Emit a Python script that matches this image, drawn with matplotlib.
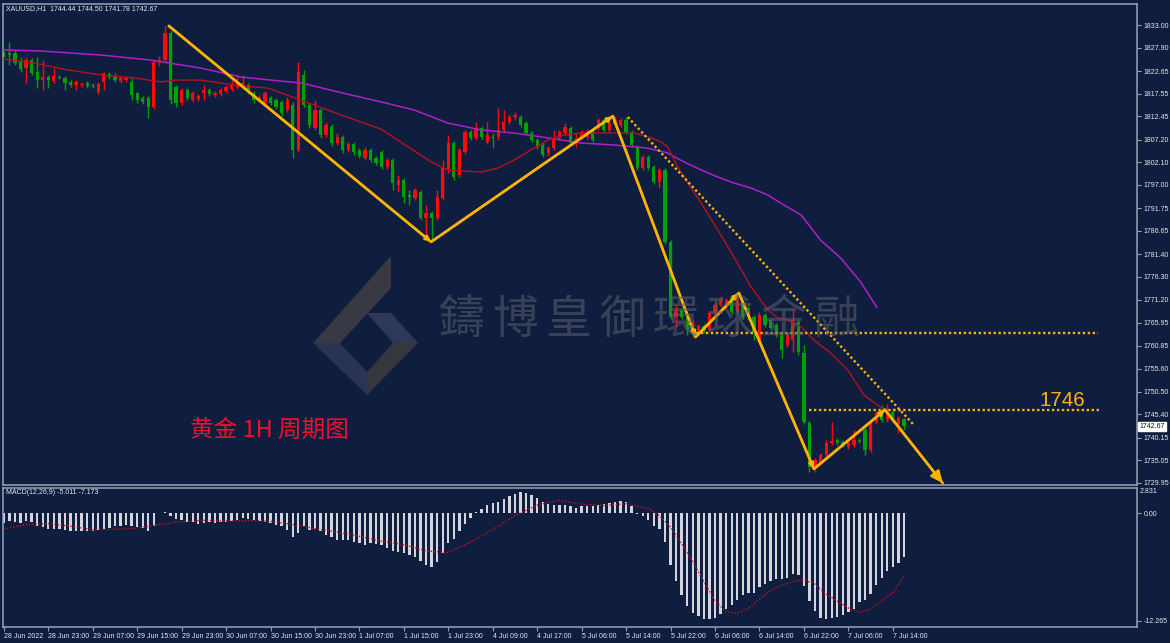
"""
XAUUSD H1 — recreación del gráfico MT4 con zigzag, líneas de soporte y MACD.
"""
import matplotlib.pyplot as plt
from matplotlib.patches import Polygon
from matplotlib.transforms import blended_transform_factory

W, H = 1170, 643

BG = "#0f1e3f"
FRAME = "#9aa3b5"
TXT = "#e4e6ec"
UP = "#ff0a0a"
DOWN = "#00a000"
GOLD = "#ffb300"

# ─── Datos: velas H1 (índice de barra 0..162) ───────────────────────────────
OPEN = [
    1826.9, 1826.7, 1826.7, 1824.7, 1823.3, 1825.1, 1822.4, 1820.6, 1821.3, 1820.4,
    1821.3, 1821.1, 1820.2, 1819.5, 1819.5, 1819.95, 1819.5, 1817.9, 1820.2, 1822.0,
    1821.5, 1820.4, 1820.6, 1820.2, 1817.7, 1816.6, 1816.6, 1814.55, 1824.7, 1825.1,
    1831.2, 1819.05, 1815.45, 1818.4, 1816.1, 1816.35, 1817.7, 1818.4, 1817.25, 1817.5,
    1818.2, 1818.6, 1819.05, 1819.05, 1819.5, 1817.7, 1816.1, 1815.45, 1816.6, 1816.1,
    1815.7, 1813.9, 1815.0, 1804.9, 1821.75, 1815.0, 1809.8, 1813.9, 1808.25, 1810.05,
    1806.4, 1807.8, 1804.9, 1806.2, 1804.9, 1803.1, 1804.9, 1803.1, 1804.4, 1801.05,
    1802.6, 1797.0, 1798.1, 1794.75, 1794.1, 1795.4, 1789.6, 1790.7, 1789.6, 1794.1,
    1800.4, 1806.4, 1799.25, 1804.4, 1808.9, 1807.6, 1809.8, 1806.7, 1807.8, 1807.8,
    1809.4, 1811.2, 1812.3, 1812.3, 1810.95, 1808.7, 1807.1, 1806.0, 1804.2, 1805.3,
    1807.6, 1808.7, 1809.8, 1807.1, 1807.8, 1807.8, 1809.4, 1809.8, 1811.6, 1809.4,
    1810.7, 1810.5, 1811.6, 1808.9, 1805.55, 1800.8, 1803.3, 1801.05, 1797.7, 1800.4,
    1784.2, 1767.3, 1768.9, 1767.3, 1764.4, 1764.15, 1765.3, 1764.4, 1768.2, 1770.0,
    1770.0, 1771.8, 1768.4, 1770.45, 1769.3, 1767.3, 1762.1, 1767.75, 1766.6, 1765.5,
    1763.25, 1761.0, 1762.1, 1766.2, 1759.2, 1743.45, 1733.55, 1734.7, 1736.25, 1738.9,
    1739.6, 1739.2, 1738.0, 1738.5, 1739.6, 1741.9, 1737.4, 1743.7, 1746.4, 1744.1,
    1745.9, 1743.2, 1744.44,
]
HIGH = [
    1827.2, 1829.2, 1827.4, 1825.8, 1825.8, 1825.6, 1825.8, 1825.1, 1821.75, 1823.3,
    1821.75, 1821.5, 1820.6, 1820.6, 1820.2, 1820.4, 1819.95, 1820.2, 1822.4, 1822.4,
    1822.2, 1821.5, 1821.3, 1821.1, 1817.9, 1817.0, 1817.0, 1825.1, 1826.0, 1832.78,
    1831.6, 1819.5, 1818.8, 1818.8, 1818.1, 1817.5, 1819.5, 1818.8, 1818.1, 1818.8,
    1819.5, 1820.6, 1821.75, 1821.75, 1819.95, 1818.1, 1817.25, 1818.1, 1817.0, 1816.6,
    1816.1, 1816.8, 1815.7, 1824.7, 1822.9, 1815.45, 1816.1, 1814.3, 1811.2, 1810.7,
    1808.7, 1808.25, 1806.7, 1806.7, 1805.3, 1805.55, 1805.3, 1803.5, 1804.9, 1803.1,
    1803.1, 1799.25, 1798.6, 1795.9, 1796.3, 1795.9, 1792.5, 1791.2, 1795.9, 1802.6,
    1808.25, 1806.9, 1805.3, 1809.4, 1809.4, 1811.2, 1810.3, 1811.2, 1808.7, 1814.3,
    1813.9, 1812.75, 1813.4, 1812.75, 1811.4, 1809.2, 1807.6, 1806.4, 1805.8, 1809.4,
    1809.4, 1810.95, 1810.3, 1808.7, 1809.4, 1809.6, 1809.8, 1812.1, 1812.1, 1811.4,
    1812.5, 1812.1, 1812.3, 1809.4, 1806.0, 1803.75, 1803.75, 1801.5, 1800.8, 1800.8,
    1784.6, 1770.0, 1769.3, 1767.75, 1766.6, 1765.8, 1765.8, 1768.6, 1770.45, 1772.0,
    1771.6, 1772.2, 1772.7, 1770.9, 1769.8, 1767.75, 1768.4, 1768.2, 1767.1, 1765.9,
    1763.7, 1763.7, 1768.9, 1766.6, 1761.0, 1743.9, 1735.6, 1736.7, 1739.6, 1743.7,
    1740.1, 1739.6, 1739.4, 1741.9, 1740.1, 1742.3, 1744.1, 1746.1, 1747.5, 1747.7,
    1746.8, 1745.0, 1744.50,
]
LOW = [
    1825.7, 1824.0, 1824.0, 1822.4, 1819.95, 1821.75, 1818.8, 1818.4, 1818.8, 1819.95,
    1820.85, 1818.4, 1819.05, 1818.4, 1819.05, 1818.8, 1818.8, 1817.5, 1818.4, 1820.85,
    1820.2, 1819.95, 1820.2, 1816.1, 1815.45, 1815.2, 1812.1, 1814.1, 1823.8, 1824.7,
    1815.2, 1814.55, 1815.0, 1816.1, 1815.7, 1815.9, 1816.1, 1817.0, 1816.8, 1817.0,
    1817.7, 1818.1, 1818.6, 1818.6, 1817.5, 1815.45, 1815.7, 1815.0, 1815.0, 1814.1,
    1812.5, 1813.4, 1803.1, 1804.4, 1814.55, 1809.8, 1809.4, 1807.6, 1807.8, 1805.8,
    1806.0, 1804.2, 1804.4, 1803.75, 1803.1, 1802.6, 1802.2, 1801.5, 1800.6, 1800.6,
    1795.9, 1795.4, 1793.0, 1792.5, 1793.6, 1789.1, 1785.1, 1784.6, 1789.1, 1793.6,
    1799.8, 1798.1, 1798.8, 1803.9, 1807.1, 1807.1, 1807.3, 1806.2, 1805.3, 1807.1,
    1808.9, 1810.7, 1811.6, 1810.05, 1808.25, 1806.7, 1805.1, 1803.3, 1803.5, 1804.9,
    1807.1, 1808.25, 1806.0, 1805.55, 1807.3, 1807.3, 1806.7, 1809.4, 1808.9, 1808.9,
    1810.3, 1810.05, 1808.5, 1805.55, 1800.4, 1800.4, 1800.4, 1797.2, 1796.3, 1783.8,
    1766.8, 1765.05, 1766.8, 1763.25, 1762.8, 1763.7, 1763.7, 1763.9, 1767.75, 1769.6,
    1769.3, 1768.0, 1768.0, 1766.8, 1766.6, 1762.1, 1761.45, 1765.05, 1764.4, 1762.8,
    1758.1, 1760.5, 1759.4, 1758.8, 1743.2, 1732.4, 1732.4, 1734.2, 1735.8, 1738.5,
    1738.5, 1738.0, 1737.6, 1738.0, 1738.9, 1736.25, 1737.0, 1743.2, 1743.7, 1743.7,
    1743.45, 1741.2, 1741.78,
]
CLOSE = [
    1826.0, 1826.25, 1824.45, 1823.1, 1825.1, 1822.2, 1820.6, 1821.3, 1820.6, 1821.5,
    1821.1, 1819.95, 1819.5, 1820.2, 1819.7, 1819.3, 1819.3, 1819.7, 1822.2, 1821.3,
    1820.6, 1821.1, 1821.1, 1817.25, 1816.1, 1815.7, 1814.55, 1824.7, 1825.1, 1831.2,
    1816.1, 1815.45, 1818.4, 1816.6, 1817.7, 1817.0, 1818.4, 1817.5, 1817.7, 1818.4,
    1819.05, 1819.5, 1820.2, 1819.95, 1817.9, 1816.1, 1816.8, 1817.7, 1815.45, 1814.55,
    1813.2, 1816.1, 1804.9, 1822.4, 1815.0, 1810.5, 1813.9, 1808.25, 1810.5, 1806.4,
    1807.8, 1804.9, 1806.2, 1804.4, 1803.5, 1804.9, 1802.6, 1801.95, 1801.05, 1802.6,
    1797.45, 1798.1, 1794.3, 1794.3, 1795.9, 1789.6, 1790.7, 1789.6, 1794.3, 1800.8,
    1806.4, 1798.8, 1804.9, 1808.9, 1807.6, 1809.8, 1807.8, 1808.25, 1807.6, 1809.4,
    1811.2, 1812.3, 1812.75, 1810.5, 1808.7, 1807.1, 1805.55, 1803.75, 1805.3, 1807.6,
    1808.9, 1810.05, 1806.4, 1807.35, 1808.9, 1808.9, 1807.1, 1811.6, 1809.4, 1810.95,
    1811.6, 1811.6, 1808.9, 1806.0, 1800.8, 1803.3, 1800.8, 1797.7, 1800.4, 1784.2,
    1767.3, 1768.9, 1767.3, 1764.4, 1766.2, 1765.3, 1764.15, 1768.2, 1770.0, 1771.1,
    1771.1, 1768.4, 1771.1, 1767.3, 1767.3, 1763.9, 1767.75, 1765.5, 1764.8, 1763.25,
    1759.9, 1763.25, 1766.6, 1759.4, 1743.7, 1733.55, 1735.1, 1736.25, 1738.9, 1739.4,
    1738.9, 1738.5, 1738.9, 1739.6, 1739.4, 1737.4, 1743.7, 1745.7, 1744.1, 1745.7,
    1743.9, 1744.6, 1742.67,
]

# medias móviles (barra, precio)
MA_RED_X = [0, 5.4, 11.5, 17.5, 23.4, 28.3, 30.6, 35.5, 41.4, 47.5, 53.5, 60.7, 67.9,
            70.9, 76.9, 79.9, 85.9, 88.9, 91.8, 94.9, 97.9, 100.8, 103.9, 109.8, 113.4,
            116.5, 118.3, 119.5, 121.3, 123.1, 125.5, 128.5, 131.4, 134.5, 137.5, 139.3,
            141.1, 143.5, 145.8, 148.8, 151.9, 154.8, 157.8, 159.1]
MA_RED_Y = [1825.35, 1824.45, 1822.9, 1821.75, 1821.1, 1820.2, 1820.6, 1820.6, 1819.5,
            1818.8, 1816.1, 1812.75, 1809.6, 1807.1, 1802.2, 1800.4, 1799.9, 1800.8,
            1802.6, 1804.9, 1807.1, 1808.25, 1808.7, 1808.7, 1808.7, 1807.6, 1806.7,
            1805.55, 1801.05, 1797.45, 1792.95, 1786.9, 1780.8, 1774.05, 1768.9, 1767.1,
            1766.6, 1765.05, 1762.1, 1759.2, 1755.35, 1749.75, 1747.0, 1746.4]
MA_PURPLE_X = [0, 6.7, 17.5, 26.5, 35.5, 42.7, 48.1, 53.5, 62.5, 67.9, 73.8, 79.9, 85.9,
               91.8, 97.9, 103.9, 109.8, 115.9, 119.5, 122.4, 125.5, 128.5, 131.4, 134.5,
               137.5, 140.4, 143.5, 147.0, 150.6, 154.2, 157.1]
MA_PURPLE_Y = [1827.4, 1827.15, 1826.25, 1825.1, 1823.3, 1821.3, 1820.6, 1819.95, 1817.25,
               1815.7, 1813.9, 1810.95, 1809.4, 1808.7, 1807.6, 1806.45, 1806.0, 1805.3,
               1804.2, 1802.2, 1800.4, 1798.8, 1797.45, 1796.3, 1794.75, 1792.5, 1790.25,
               1784.6, 1780.6, 1775.2, 1769.55]

# MACD(12,26,9): línea principal (histograma) y señal punteada
MACD = [
    -1.15, -0.95, -1.07, -1.15, -0.95, -1.07, -1.53, -1.6, -1.8, -1.83,
    -1.83, -1.9, -2.02, -2.1, -2.1, -2.1, -2.1, -1.9, -1.83, -1.72,
    -1.53, -1.45, -1.34, -1.53, -1.6, -1.72, -2.1, -1.45, -0.05, 0.15,
    -0.38, -0.69, -0.84, -0.99, -1.07, -1.22, -1.15, -1.07, -1.15, -1.07,
    -1.07, -0.95, -0.76, -0.57, -0.69, -0.84, -0.95, -1.07, -1.15, -1.34,
    -1.53, -1.91, -2.67, -2.29, -1.53, -1.91, -1.83, -2.1, -2.48, -2.67,
    -3.05, -3.05, -3.05, -3.24, -3.43, -3.63, -3.43, -3.5, -3.63, -4.0,
    -4.27, -4.39, -4.6, -4.8, -5.0, -5.5, -5.9, -6.1, -5.6, -4.6,
    -3.4, -2.9, -2.1, -1.2, -0.6, 0.1, 0.5, 0.9, 1.1, 1.3,
    1.6, 1.9, 2.2, 2.4, 2.3, 2.0, 1.7, 1.3, 1.0, 0.9,
    0.9, 0.95, 0.76, 0.57, 0.84, 0.76, 0.76, 0.95, 1.07, 1.15,
    1.22, 1.41, 1.22, 0.84, -0.1, -0.38, -0.84, -1.53, -1.83, -3.32,
    -5.92, -7.75, -9.27, -10.57, -11.34, -11.72, -12.02, -12.02, -11.91, -11.45,
    -10.88, -10.5, -9.85, -9.35, -9.08, -9.05, -8.4, -8.02, -7.71, -7.52,
    -7.48, -7.33, -6.95, -6.99, -8.28, -10.04, -11.18, -11.91, -12.02, -11.95,
    -11.87, -11.64, -11.26, -10.88, -10.11, -9.92, -9.16, -8.21, -7.44, -6.6,
    -6.18, -5.65, -5.01,
]
SIG_X = [0, 4, 8, 12, 16, 20, 24, 28, 32, 36, 40, 44, 48, 52, 56, 60, 64, 68, 72, 76,
         80, 84, 88, 92, 96, 100, 104, 108, 112, 116, 118, 120, 122, 124, 126, 128, 130,
         132, 134, 136, 138, 140, 142, 144, 146, 148, 150, 152, 154, 156, 158, 160, 162]
SIG_Y = [-1.83, -1.3, -1.2, -1.5, -1.9, -1.85, -1.7, -1.3, -0.97, -0.84, -0.9, -0.85,
         -0.95, -1.3, -1.78, -2.15, -2.65, -3.2, -3.6, -4.3, -4.5, -3.3, -1.9, -0.3, 0.9,
         1.45, 1.0, 0.85, 1.05, 0.5, -0.3, -1.6, -3.5, -5.5, -7.8, -10.0, -11.2, -11.4,
         -10.8, -9.8, -8.8, -8.2, -7.8, -7.6, -8.1, -9.2, -10.0, -10.8, -11.3, -10.9,
         -10.0, -9.0, -7.2]

# dibujos del analista
ZZ_X = [29.7, 76.9, 109.6, 124.5, 132.3, 145.8, 158.6, 169.0]
ZZ_Y = [1832.8, 1784.2, 1812.5, 1762.8, 1772.7, 1733.1, 1746.4, 1729.9]
TREND_X = [112.3, 163.8]
TREND_Y = [1812.3, 1743.0]
LEVEL_1 = 1763.7
LEVEL_1_X = [124.5, 196.9]
LEVEL_2 = 1746.4
LEVEL_2_X = [144.9, 197.1]

PRICE_TICKS = [1833.00, 1827.90, 1822.65, 1817.55, 1812.45, 1807.20, 1802.10, 1797.00,
               1791.75, 1786.65, 1781.40, 1776.30, 1771.20, 1765.95, 1760.85, 1755.60,
               1750.50, 1745.40, 1740.15, 1735.05, 1729.95]
TIME_LABELS = ["28 Jun 2022", "28 Jun 23:00", "29 Jun 07:00", "29 Jun 15:00",
               "29 Jun 23:00", "30 Jun 07:00", "30 Jun 15:00", "30 Jun 23:00",
               "1 Jul 07:00", "1 Jul 15:00", "1 Jul 23:00", "4 Jul 09:00", "4 Jul 17:00",
               "5 Jul 06:00", "5 Jul 14:00", "5 Jul 22:00", "6 Jul 06:00", "6 Jul 14:00",
               "6 Jul 22:00", "7 Jul 06:00", "7 Jul 14:00"]
LAST_PRICE = 1742.67
WATERMARK = "鑄博皇御環球金融"

SMALL = dict(family="Liberation Sans", fontsize=5.0, color=TXT)

# ─── Figura ──────────────────────────────────────────────────────────────────
fig = plt.figure(figsize=(W / 100, H / 100), dpi=100)
fig.patch.set_facecolor(BG)


def frac(x0, y0, x1, y1):
    # caja en píxeles (origen arriba-izquierda) -> fracción de figura
    return [x0 / W, 1 - y1 / H, (x1 - x0) / W, (y1 - y0) / H]


ax = fig.add_axes(frac(3, 4, 1137, 485))
axm = fig.add_axes(frac(3, 488, 1137, 627))

XMAX = 1134 / 5.556
for a in (ax, axm):
    a.set_facecolor(BG)
    a.set_xlim(-0.15, XMAX - 0.15)
    for s in a.spines.values():
        s.set_edgecolor(FRAME)
        s.set_linewidth(1.1)
    a.yaxis.tick_right()
    a.tick_params(axis="y", colors=FRAME, length=3, width=0.8, pad=1.5,
                  labelcolor=TXT, labelsize=5.0)

ax.set_ylim(1729.49, 1837.73)
axm.set_ylim(-12.95, 2.84)

# ── velas ────────────────────────────────────────────────────────────────────
for i, (o, h, l, c) in enumerate(zip(OPEN, HIGH, LOW, CLOSE)):
    col = UP if c >= o else DOWN
    ax.vlines(i, l, h, color=col, lw=1.0, zorder=2)
    body = max(abs(c - o), 0.18)
    ax.bar(i, body, bottom=min(o, c), width=0.58, color=col, lw=0, zorder=2)

ax.plot(MA_PURPLE_X, MA_PURPLE_Y, color="#b01ec8", lw=1.1, zorder=3)
ax.plot(MA_RED_X, MA_RED_Y, color="#b3121f", lw=1.0, zorder=3)

# ── zigzag con flechas ───────────────────────────────────────────────────────
ax.plot(ZZ_X, ZZ_Y, color=GOLD, lw=1.8, zorder=5, solid_capstyle="round",
        solid_joinstyle="round", clip_on=False)
for k in range(1, len(ZZ_X)):
    last = k == len(ZZ_X) - 1
    style = "-|>,head_length=0.7,head_width=0.32" if last else "-|>,head_length=0.3,head_width=0.14"
    ax.annotate("", xy=(ZZ_X[k], ZZ_Y[k]), xytext=(ZZ_X[k - 1], ZZ_Y[k - 1]),
                arrowprops=dict(arrowstyle=style, color=GOLD, lw=1.8,
                                shrinkA=0, shrinkB=0), zorder=5, annotation_clip=False)

dots = dict(color=GOLD, lw=1.7, linestyle=(0, (1, 1.1)), dash_capstyle="butt", zorder=5)
ax.plot(TREND_X, TREND_Y, **dots)
ax.plot(LEVEL_1_X, [LEVEL_1, LEVEL_1], **dots)
ax.plot(LEVEL_2_X, [LEVEL_2, LEVEL_2], **dots)

fig.text(1062 / W, 1 - 400 / H, "1746", color=GOLD, fontsize=14.8,
         family="Liberation Sans", ha="center", va="center")
fig.text(190 / W, 1 - 430 / H, "黄金 1H 周期图", color="#f0102c", fontsize=17,
         family=["Noto Sans CJK SC", "DejaVu Sans"], ha="left", va="center")

# ── ejes de precio ───────────────────────────────────────────────────────────
ax.set_yticks(PRICE_TICKS)
ax.set_yticklabels([f"{p:.2f}" for p in PRICE_TICKS], family="Liberation Sans")
ax.set_xticks([])
blend = blended_transform_factory(ax.transAxes, ax.transData)
ax.text(1.0 + 2.5 / 1134, LAST_PRICE, f"{LAST_PRICE:.2f}", transform=blend,
        ha="left", va="center", family="Liberation Sans", fontsize=5.0, color="#101010",
        bbox=dict(facecolor="white", edgecolor="white", boxstyle="square,pad=0.15"))

fig.text(6 / W, 1 - 9 / H, "XAUUSD,H1  1744.44 1744.50 1741.78 1742.67", va="center", **SMALL)

# ── MACD ─────────────────────────────────────────────────────────────────────
axm.bar(range(len(MACD)), MACD, width=0.42, color="#d4d5dc", lw=0, zorder=2)
axm.plot(SIG_X, SIG_Y, color="#c8101e", lw=1.0, linestyle=(0, (1, 1.3)), zorder=3)
axm.set_yticks([0.0, -12.265])
axm.set_yticklabels(["0.00", "-12.265"], family="Liberation Sans")
axm.text(1.0 + 3 / 1134, 2.84, "2.831", transform=blended_transform_factory(axm.transAxes, axm.transData),
         ha="left", va="top", **SMALL)
fig.text(6 / W, 1 - 493 / H, "MACD(12,26,9) -5.011 -7.173", va="center", **SMALL)

axm.set_xticks(range(0, 8 * len(TIME_LABELS), 8))
axm.set_xticklabels(TIME_LABELS, family="Liberation Sans")
axm.tick_params(axis="x", colors=FRAME, length=3, width=0.8, pad=1.5,
                labelcolor=TXT, labelsize=5.0)
for lab in axm.get_xticklabels():
    lab.set_horizontalalignment("left")

# ── marca de agua ────────────────────────────────────────────────────────────
def poly(points, color):
    pts = [(x / W, 1 - y / H) for x, y in points]
    fig.add_artist(Polygon(pts, closed=True, transform=fig.transFigure,
                           facecolor=color, edgecolor="none", alpha=0.9, zorder=6))


poly([(391, 256), (391, 288), (340, 343), (313, 343)], "#3d3d43")
poly([(313, 343), (340, 343), (367, 372), (367, 395)], "#2c3656")
poly([(367, 313), (391, 313), (418, 343), (393, 343)], "#323c5c")
poly([(393, 343), (418, 343), (367, 395), (367, 372)], "#3a3a40")

for k, ch in enumerate(WATERMARK):
    fig.text((461 + 53.7 * k) / W, 1 - 320 / H, ch, fontsize=33, color="#5a5e6a",
             alpha=0.55, family=["Noto Sans CJK TC", "DejaVu Sans"],
             ha="center", va="center", zorder=6)

fig.savefig("out.png", dpi=100, facecolor=fig.get_facecolor())
